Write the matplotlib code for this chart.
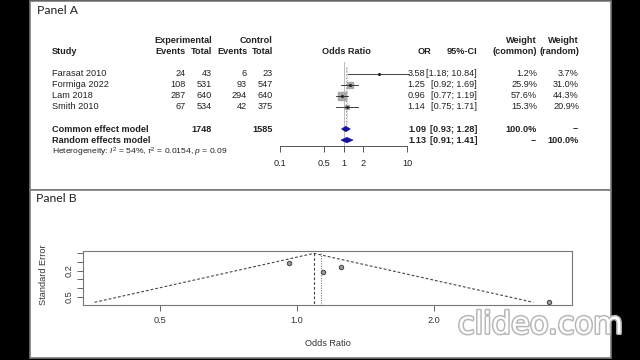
import numpy as np
import matplotlib
matplotlib.use("Agg")
import matplotlib.pyplot as plt
from matplotlib.patches import Rectangle, Polygon
from matplotlib.ticker import FixedLocator, FixedFormatter, NullLocator
import matplotlib.patheffects as pe

# ---------------- data ----------------
studies = ["Farasat 2010", "Formiga 2022", "Lam 2018", "Smith 2010"]
exp_events = [24, 108, 287, 67]
exp_total = [43, 531, 640, 534]
ctrl_events = [6, 93, 294, 42]
ctrl_total = [23, 547, 640, 375]
or_est = [3.58, 1.25, 0.96, 1.14]
ci_low = [1.18, 0.92, 0.77, 0.75]
ci_high = [10.84, 1.69, 1.19, 1.71]
w_common = [1.2, 25.9, 57.6, 15.3]
w_random = [3.7, 31.0, 44.3, 20.9]
se = [0.566, 0.155, 0.111, 0.210]

models = ["Common effect model", "Random effects model"]
model_or = [1.09, 1.13]
model_low = [0.93, 0.91]
model_high = [1.28, 1.41]
model_wc = ["100.0%", "--"]
model_wr = ["--", "100.0%"]
exp_sum = 1748
ctrl_sum = 1585
i2_pct = 54
tau2 = 0.0154
p_het = 0.09

forest_ticks = [0.1, 0.5, 1, 2, 10]
forest_ticklabels = ["0.1", "0.5", "1", "2", "10"]
funnel_ticks = [0.5, 1.0, 2.0]
funnel_ticklabels = ["0.5", "1.0", "2.0"]
se_ticks = [0.0, 0.1, 0.2, 0.3, 0.4, 0.5]
se_ticklabels = ["", "", "0.2", "", "", "0.5"]

# ---------------- figure ----------------
plt.rcParams["font.family"] = ["Liberation Sans", "DejaVu Sans"]
plt.rcParams["mathtext.fontset"] = "custom"
plt.rcParams["mathtext.rm"] = "Liberation Sans"
plt.rcParams["mathtext.it"] = "Liberation Sans:italic"

W, H = 640, 360
fig = plt.figure(figsize=(6.4, 3.6), dpi=100, facecolor="black")

ov = fig.add_axes([0, 0, 1, 1])
ov.set_xlim(0, W)
ov.set_ylim(H, 0)
ov.axis("off")
ov.set_zorder(0)

border = "#7a7a7a"
ov.add_patch(Rectangle((29.5, 0.5), 581, 189, facecolor="white", edgecolor=border, lw=1.2))
ov.add_patch(Rectangle((29.5, 189.5), 581, 168, facecolor="white", edgecolor=border, lw=1.2))

ov.text(37, 10, "Panel A", fontsize=8.8, family=["Lato", "DejaVu Sans"], va="center", ha="left", color="#222")
ov.text(36, 199, "Panel B", fontsize=8.8, family=["Lato", "DejaVu Sans"], va="center", ha="left", color="#222")

# ----- Panel A: forest table -----
FS = 6.6
Y0, STEP = 73.5, 11.1
def ypx(r):
    return Y0 + STEP * r

txt = "#222222"
hy1, hy2 = 40.5, 52
ov.text(52, hy2, "Study", fontsize=FS, weight="bold", va="center", ha="left", color=txt)
ov.text(212, hy1, "Experimental", fontsize=FS, weight="bold", va="center", ha="right", color=txt)
ov.text(273, hy1, "Control", fontsize=FS, weight="bold", va="center", ha="right", color=txt)
for xr, lab in [(186, "Events"), (212, "Total"), (247, "Events"), (273, "Total")]:
    ov.text(xr, hy2, lab, fontsize=FS, weight="bold", va="center", ha="right", color=txt)
ov.text(346, hy2, "Odds Ratio", fontsize=FS, weight="bold", va="center", ha="center", color=txt)
ov.text(431, hy2, "OR", fontsize=FS, weight="bold", va="center", ha="right", color=txt)
ov.text(477, hy2, "95%-CI", fontsize=FS, weight="bold", va="center", ha="right", color=txt)
ov.text(537, hy1, "Weight", fontsize=FS, weight="bold", va="center", ha="right", color=txt)
ov.text(537, hy2, "(common)", fontsize=FS, weight="bold", va="center", ha="right", color=txt)
ov.text(579, hy1, "Weight", fontsize=FS, weight="bold", va="center", ha="right", color=txt)
ov.text(579, hy2, "(random)", fontsize=FS, weight="bold", va="center", ha="right", color=txt)

for i, s in enumerate(studies):
    y = ypx(i)
    ov.text(52, y, s, fontsize=FS, va="center", ha="left", color=txt)
    ov.text(186, y, str(exp_events[i]), fontsize=FS, va="center", ha="right", color=txt)
    ov.text(212, y, str(exp_total[i]), fontsize=FS, va="center", ha="right", color=txt)
    ov.text(247, y, str(ctrl_events[i]), fontsize=FS, va="center", ha="right", color=txt)
    ov.text(273, y, str(ctrl_total[i]), fontsize=FS, va="center", ha="right", color=txt)
    ov.text(425, y, f"{or_est[i]:.2f}", fontsize=FS, va="center", ha="right", color=txt)
    ov.text(477, y, f"[{ci_low[i]:.2f}; {ci_high[i]:.2f}]", fontsize=FS, va="center", ha="right", color=txt)
    ov.text(537, y, f"{w_common[i]:.1f}%", fontsize=FS, va="center", ha="right", color=txt)
    ov.text(579, y, f"{w_random[i]:.1f}%", fontsize=FS, va="center", ha="right", color=txt)

for j, m in enumerate(models):
    y = ypx(5 + j)
    ov.text(52, y, m, fontsize=FS, weight="bold", va="center", ha="left", color=txt)
    ov.text(426, y, f"{model_or[j]:.2f}", fontsize=FS, weight="bold", va="center", ha="right", color=txt)
    ov.text(477, y, f"[{model_low[j]:.2f}; {model_high[j]:.2f}]", fontsize=FS, weight="bold", va="center", ha="right", color=txt)
    ov.text(537, y, model_wc[j], fontsize=FS, weight="bold", va="center", ha="right", color=txt)
    ov.text(579, y, model_wr[j], fontsize=FS, weight="bold", va="center", ha="right", color=txt)
ov.text(212, ypx(5), str(exp_sum), fontsize=FS, weight="bold", va="center", ha="right", color=txt)
ov.text(273, ypx(5), str(ctrl_sum), fontsize=FS, weight="bold", va="center", ha="right", color=txt)
ov.text(52, ypx(7.1), rf"Heterogeneity: $I^2$ = {i2_pct}%, $\tau^2$ = {tau2}, $p$ = {p_het}",
        fontsize=6.1, va="center", ha="left", color=txt)

# ----- Panel A: forest marks -----
fx0, fx1, fy0, fy1 = 270, 420, 60, 146
DEC = 63.5
fa = fig.add_axes([fx0 / W, (H - fy1) / H, (fx1 - fx0) / W, (fy1 - fy0) / H])
fa.patch.set_alpha(0)
fa.set_zorder(2)
fa.set_xscale("log")
fa.set_xlim(10 ** (-1 - (280 - fx0) / DEC), 10 ** (-1 + (fx1 - 280) / DEC))
fa.set_ylim((fy1 - Y0) / STEP, (fy0 - Y0) / STEP)
for sp in ["top", "left", "right"]:
    fa.spines[sp].set_visible(False)
fa.spines["bottom"].set_bounds(0.1, 10)
fa.spines["bottom"].set_color("#555")
fa.spines["bottom"].set_linewidth(0.7)
fa.xaxis.set_major_locator(FixedLocator(forest_ticks))
fa.xaxis.set_major_formatter(FixedFormatter(forest_ticklabels))
fa.xaxis.set_minor_locator(NullLocator())
fa.yaxis.set_major_locator(NullLocator())
fa.tick_params(axis="x", length=4.5, width=0.7, color="#555", labelsize=FS, labelcolor=txt, pad=5)

# reference and summary lines
fa.plot([1, 1], [-1.0, (fy1 - Y0) / STEP], color="#b0b0b0", lw=0.6)
fa.plot([model_or[0]] * 2, [-0.6, 4.6], color="#909090", lw=0.6, ls=(0, (2, 2)))
fa.plot([model_or[1]] * 2, [-0.6, 4.6], color="#a0a0a0", lw=0.6, ls=(0, (1, 1.5)))

for i in range(len(studies)):
    fa.plot([ci_low[i], ci_high[i]], [i, i], color="#222", lw=0.6, zorder=3)
    size_px = 1.05 * np.sqrt(w_common[i])
    fa.plot(or_est[i], i, marker="s", ms=size_px * 0.72, color="#a8a8a8", mec="#a8a8a8", zorder=2)
    fa.plot(or_est[i], i, marker="o", ms=1.2, color="#222", zorder=4)

dh = 0.24
for j in range(2):
    r = 5 + j
    poly = Polygon([[model_low[j], r], [model_or[j], r - dh], [model_high[j], r], [model_or[j], r + dh]],
                   closed=True, facecolor="#14149a", edgecolor="#14149a", lw=0.5, zorder=3)
    fa.add_patch(poly)

# ----- Panel B: funnel plot -----
bx0, bx1, by0, by1 = 83, 572, 251, 305
ba = fig.add_axes([bx0 / W, (H - by1) / H, (bx1 - bx0) / W, (by1 - by0) / H])
ba.set_zorder(2)
ba.set_xscale("log")
ba.set_xlim(0.339, 4.02)
ba.set_ylim(0.597, -0.027)
for sp in ba.spines.values():
    sp.set_color("#777")
    sp.set_linewidth(0.8)
ba.xaxis.set_major_locator(FixedLocator(funnel_ticks))
ba.xaxis.set_major_formatter(FixedFormatter(funnel_ticklabels))
ba.xaxis.set_minor_locator(NullLocator())
ba.yaxis.set_major_locator(FixedLocator(se_ticks))
ba.yaxis.set_major_formatter(FixedFormatter(se_ticklabels))
ba.tick_params(axis="both", length=4, width=0.7, color="#666", labelsize=FS, labelcolor="#333")
ba.tick_params(axis="x", pad=4)
ba.tick_params(axis="y", pad=3)
for lab in ba.get_yticklabels():
    lab.set_rotation(90)
    lab.set_va("center")

te_c = np.log(model_or[0])
smax = max(se)
fx = np.exp([te_c - 1.96 * smax, te_c, te_c + 1.96 * smax])
ba.plot(fx, [smax, 0, smax], color="#444", lw=0.8, ls=(0, (2.5, 1.8)))
ba.plot([model_or[0]] * 2, [0, 0.597], color="#444", lw=0.8, ls=(0, (2.5, 1.8)))
ba.plot([model_or[1]] * 2, [0, 0.597], color="#777", lw=0.8, ls=(0, (1, 1.2)))
ba.plot(or_est, se, ls="none", marker="o", ms=3.2, mfc="#9a9a9a", mec="#444", mew=0.7)

ba.set_xlabel("Odds Ratio", fontsize=FS, color="#333")
ba.xaxis.set_label_coords(0.5, -(344 - by1) / (by1 - by0))
ba.xaxis.label.set_va("center")
ba.set_ylabel("Standard Error", fontsize=FS, color="#333")
ba.yaxis.set_label_coords(-(bx0 - 44) / (bx1 - bx0), 0.57)
ba.yaxis.label.set_va("center")

# watermark as in reference
wm = ov.text(540, 325, "clideo.com", fontsize=22, ha="center", va="center", color="white",
             family=["DejaVu Sans"], zorder=5)
wm.set_path_effects([pe.Stroke(linewidth=2.2, foreground="#b8b8b8"), pe.Normal()])

fig.savefig("out.png", dpi=100, facecolor="black")
